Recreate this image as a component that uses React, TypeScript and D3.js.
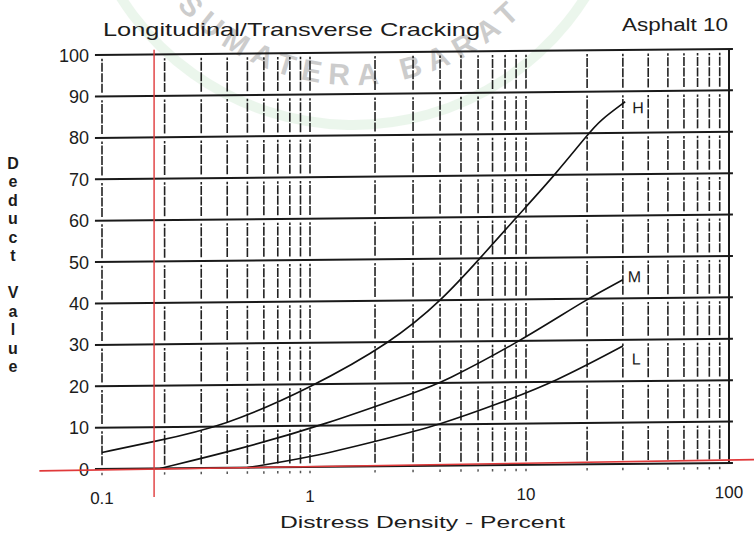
import React from "react";
import * as d3 from "d3";

// ---------- data ----------
const seriesNames = ["H", "M", "L"];
const hDensity = [0.1, 0.178, 0.382, 1, 2.4, 4.08, 6.12, 9.09, 13.9, 20.4, 23.1, 30.8];
const hDeduct = [4, 6.5, 10, 19, 30, 40, 50, 60, 70, 80, 83, 87.5];
const mDensity = [0.19, 0.46, 1.137, 3.23, 4.06, 9.5, 20, 30];
const mDeduct = [0, 4.5, 10, 18.2, 20, 30, 40, 44.5];
const lDensity = [0.5, 1, 2.11, 4.06, 7.58, 13.9, 30];
const lDeduct = [0, 2.3, 6.3, 10, 15, 20, 28.5];

const xTickValues = [0.1, 1, 10, 100];
const xTickLabels = ["0.1", "1", "10", "100"];
const yTickValues = [0, 10, 20, 30, 40, 50, 60, 70, 80, 90, 100];
const gridXValues = [
  0.1, 0.2, 0.3, 0.4, 0.5, 0.6, 0.7, 0.8, 0.9,
  1, 2, 3, 4, 5, 6, 7, 8, 9,
  10, 20, 30, 40, 50, 60, 70, 80, 90,
];
const borderX = 100;
const gridExtentX = [0.0925, 104.6];
const redMarkerX = 0.178;
const redLineExtentX = [0.05, 133];

const title = "Longitudinal/Transverse Cracking";
const subtitle = "Asphalt 10";
const xTitle = "Distress Density - Percent";
const yTitle = "Deduct Value";
const watermark = "SUMATERA BARAT";

export default function App() {
  const W = 754;
  const H = 533;

  // hand-drawn log axis: decades are not exactly equal width
  const x = d3.scaleLog().domain([0.1, 1, 10, 100]).range([102, 310, 526, 729]);
  const y = d3.scaleLinear().domain([0, 100]).range([470, 56]);

  const series = [
    { name: seriesNames[0], xs: hDensity, ys: hDeduct, dx: 7, dy: 6 },
    { name: seriesNames[1], xs: mDensity, ys: mDeduct, dx: 5, dy: -3 },
    { name: seriesNames[2], xs: lDensity, ys: lDeduct, dx: 9, dy: 13 },
  ];

  const line = d3
    .line<[number, number]>()
    .x((d) => x(d[0]))
    .y((d) => y(d[1]))
    .curve(d3.curveBasis);

  const font = "'Liberation Sans', Arial, sans-serif";
  const ink = "#1c1c1c";

  // watermark arc
  const cx = 353, cy = -150, r = 235;
  const a0 = (142 * Math.PI) / 180, a1 = (28 * Math.PI) / 180;
  const arcPath = `M${cx + r * Math.cos(a0)},${cy + r * Math.sin(a0)} A${r},${r} 0 0 0 ${cx + r * Math.cos(a1)},${cy + r * Math.sin(a1)}`;
  const r2 = 275;
  const g0 = (160 * Math.PI) / 180, g1 = (22 * Math.PI) / 180;
  const greenPath = `M${cx + r2 * Math.cos(g0)},${cy + r2 * Math.sin(g0)} A${r2},${r2} 0 0 0 ${cx + r2 * Math.cos(g1)},${cy + r2 * Math.sin(g1)}`;

  const cells = d3.range(0, 100, 10);

  return (
    <svg width={W} height={H} viewBox={`0 0 ${W} ${H}`} style={{ display: "block", position: "absolute", left: 0, top: 0, background: "#fff" }}>
      <rect x={0} y={0} width={W} height={H} fill="#fff" />
      {/* watermark */}
      <g opacity={0.5}>
        <path d={greenPath} fill="none" stroke="#a9d9ae" strokeWidth={10} opacity={0.45} />
        <path id="wm-arc" d={arcPath} fill="none" stroke="none" />
        <text fontFamily={font} fontWeight="bold" fontSize={30} fill="#9a9a9a">
          <textPath href="#wm-arc" startOffset={14} textLength={385} lengthAdjust="spacing">
            {watermark}
          </textPath>
        </text>
      </g>

      {/* titles */}
      <text x={103} y={36} fontFamily={font} fontSize={19} fill={ink} textLength={377} lengthAdjust="spacingAndGlyphs">
        {title}
      </text>
      <text x={622} y={31} fontFamily={font} fontSize={18} fill={ink} textLength={106} lengthAdjust="spacingAndGlyphs">
        {subtitle}
      </text>

      {/* y axis title (stacked letters) */}
      {yTitle.split("").map((ch, i) => (
        <text key={i} x={13} y={163 + i * 18.5} textAnchor="middle" dominantBaseline="central" fontFamily={font} fontWeight="bold" fontSize={16} fill={ink}>
          {ch}
        </text>
      ))}

      {/* y tick labels */}
      {yTickValues.map((v) => (
        <text key={v} x={89} y={y(v) - 0.5} textAnchor="end" dominantBaseline="central" fontFamily={font} fontSize={18} fill={ink}>
          {v}
        </text>
      ))}

      {/* x axis title */}
      <text x={280} y={528} fontFamily={font} fontSize={17} fill={ink} textLength={285} lengthAdjust="spacingAndGlyphs">
        {xTitle}
      </text>

      <g transform="skewY(-0.55)">
        {/* horizontal grid */}
        {yTickValues.map((v) => (
          <line key={"h" + v} x1={x(gridExtentX[0])} x2={x(gridExtentX[1])} y1={y(v)} y2={y(v)} stroke="#1a1a1a" strokeWidth={2} />
        ))}
        {/* vertical dashed grid */}
        {gridXValues.map((gx) => (
          <g key={"v" + gx}>
            {cells.map((c) => (
              <line key={c} x1={x(gx)} x2={x(gx)} y1={y(c + 0.9)} y2={y(c + 9.1)} stroke="#222" strokeWidth={1.6} strokeDasharray="9 1.5" />
            ))}
            <line x1={x(gx)} x2={x(gx)} y1={y(-0.9)} y2={y(-1.5)} stroke="#555" strokeWidth={1.5} />
          </g>
        ))}
        {/* right border */}
        <line x1={x(borderX)} x2={x(borderX)} y1={y(0)} y2={y(100)} stroke="#1a1a1a" strokeWidth={2} />

        {/* curves */}
        {series.map((s) => {
          const pts = s.xs.map((xv, i) => [xv, s.ys[i]] as [number, number]);
          const last = pts[pts.length - 1];
          return (
            <g key={s.name}>
              <path d={line(pts) || ""} fill="none" stroke="#111" strokeWidth={1.6} />
              <text x={x(last[0]) + s.dx} y={y(last[1]) + s.dy} dominantBaseline="central" fontFamily={font} fontSize={16} fill={ink}>
                {s.name}
              </text>
            </g>
          );
        })}

        {/* x tick labels */}
        {xTickValues.map((v, i) => (
          <text key={v} x={x(v)} y={505} textAnchor="middle" fontFamily={font} fontSize={17} fill={ink}>
            {xTickLabels[i]}
          </text>
        ))}
      </g>

      {/* red annotation lines */}
      <line x1={x(redLineExtentX[0])} x2={x(redLineExtentX[1])} y1={y(-0.2)} y2={y(2.5)} stroke="#e0393a" strokeWidth={1.6} />
      <line x1={x(redMarkerX)} x2={x(redMarkerX)} y1={y(101.5)} y2={y(-6.5)} stroke="#e0393a" strokeWidth={1.4} />
    </svg>
  );
}
